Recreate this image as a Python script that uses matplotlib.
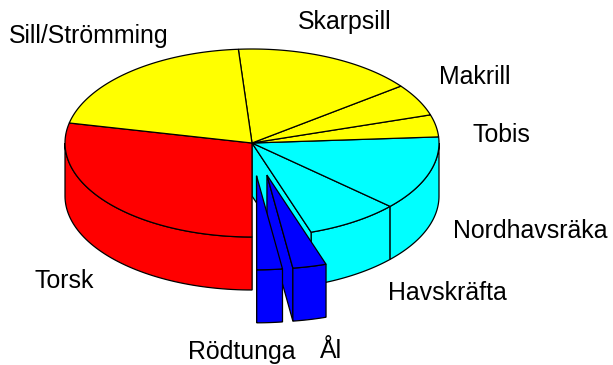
import numpy as np
import matplotlib
matplotlib.use('Agg')
import matplotlib.pyplot as plt

# slices counter clockwise, starting at the left where Torsk begins
labels = ['Torsk', 'Rödtunga', 'Ål', 'Havskräfta', 'Nordhavsräka',
          'Tobis', 'Makrill', 'Skarpsill', 'Sill/Strömming']
values = [28.4, 2.2, 2.9, 8.1, 12.8, 3.8, 5.5, 15.8, 20.4]
exploded = ['Rödtunga', 'Ål']

colors = ['#ff0000', '#0000ff', '#0000ff', '#00ffff', '#00ffff',
          '#ffff00', '#ffff00', '#ffff00', '#ffff00']

label_x = [64, 242, 331, 447, 530, 501, 475, 345, 88.5]
label_y = [280.5, 352.5, 351.5, 293.5, 230.5, 135.5, 77.5, 21.5, 35.5]

cx, cy = 252, 143
rx, ry = 187, 94
height = 53
explode_k = 0.35
start_angle = 167.7
lw = 0.9

plt.rcParams['font.family'] = ['Liberation Sans', 'DejaVu Sans']

fig = plt.figure(figsize=(6.13, 3.65), dpi=100)
ax = fig.add_axes([0, 0, 1, 1])
ax.set_xlim(0, 613)
ax.set_ylim(365, 0)
ax.axis('off')


def rim(t, dx=0, dy=0):
    t = np.radians(t)
    return cx + dx + rx * np.cos(t), cy + dy - ry * np.sin(t)


def side_wall(a, b, dx, dy, color, z):
    # outer wall, only the part that faces the viewer
    a = max(a, 180)
    b = min(b, 360)
    if b <= a:
        return
    t = np.linspace(a, b, 60)
    x, y = rim(t, dx, dy)
    ax.fill(np.r_[x, x[::-1]], np.r_[y, y[::-1] + height], fc=color, ec='k', lw=lw, zorder=z)


def cut_wall(t, dx, dy, color, z):
    x, y = rim(t, dx, dy)
    ax.fill([cx + dx, x, x, cx + dx], [cy + dy, y, y + height, cy + dy + height],
            fc=color, ec='k', lw=lw, zorder=z)


def top_face(a, b, dx, dy, color, z):
    t = np.linspace(a, b, 80)
    x, y = rim(t, dx, dy)
    ax.fill(np.r_[cx + dx, x], np.r_[cy + dy, y], fc=color, ec='k', lw=lw, zorder=z)


sweep = np.array(values) / sum(values) * 360
edges = start_angle + np.r_[0, np.cumsum(sweep)]

for i, name in enumerate(labels):
    a, b = edges[i], edges[i + 1]
    if name in exploded:
        continue
    side_wall(a, b, 0, 0, colors[i], 2)
    top_face(a, b, 0, 0, colors[i], 3)
    if name == 'Havskräfta':
        cut_wall(a, 0, 0, colors[i], 2)

# pulled out pieces go last, the one further left is in front
z = 10
for i in range(len(labels) - 1, -1, -1):
    if labels[i] not in exploded:
        continue
    a, b = edges[i], edges[i + 1]
    mid = np.radians((a + b) / 2)
    dx = explode_k * rx * np.cos(mid)
    dy = -explode_k * ry * np.sin(mid)
    cut_wall(a, dx, dy, colors[i], z)
    side_wall(a, b, dx, dy, colors[i], z)
    top_face(a, b, dx, dy, colors[i], z + 1)
    z += 2

for name, x, y in zip(labels, label_x, label_y):
    ax.text(x, y, name, fontsize=17.9, ha='center', va='center', color='k')

fig.savefig('out.png', dpi=100)
